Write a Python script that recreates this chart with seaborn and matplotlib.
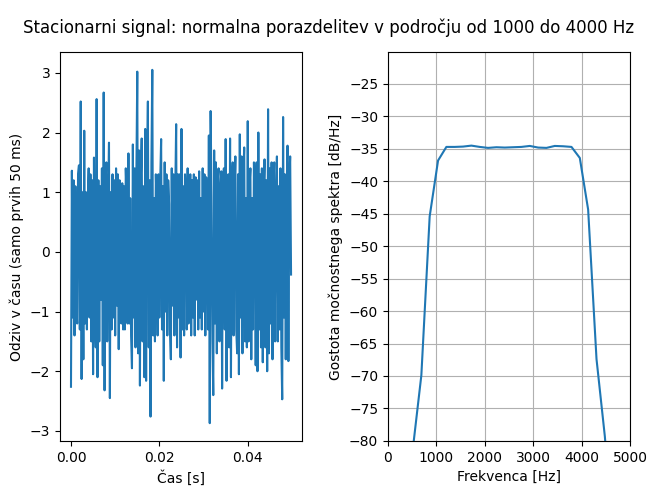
import numpy as np
import seaborn as sns
import matplotlib.pyplot as plt

# first 50 ms of the filtered noise (sample step 0.2 ms)
fs = 5000
signal = [
    -2.26, 1.36, -1.1, 1.2, -1.4, 1.1, -0.9, -1.2, 1.3, 1.45,
    -1.3, 2.52, -2.13, 1.0, -1.8, 2.03, -1.2, 1.0, -1.3, 0.8,
    1.4, -1.1, 1.3, -1.5, 1.2, -2.05, 1.58, -0.9, -1.6, 2.56,
    -2.1, 1.2, -1.5, 1.1, -0.8, 1.4, -1.9, 2.67, -2.32, 1.1,
    1.5, -1.5, 0.9, 1.83, -2.45, 1.0, -1.3, 1.3, -1.1, 1.2,
    -1.4, 1.4, -0.9, 1.3, -1.63, 1.2, 0.8, -1.2, 1.15, -1.3,
    1.1, -1.3, 1.4, 0.9, -1.2, 1.65, -1.2, 0.9, -1.4, -1.95,
    1.8, -1.1, 1.4, -1.6, 1.3, 3.02, -1.7, 1.7, -2.24, 1.2,
    1.9, -1.5, 1.1, -2.1, 2.06, -2.16, 1.3, 2.52, -1.6, 1.2,
    -2.76, 1.5, 3.05, -1.4, 0.9, -1.5, 1.3, 0.7, -1.4, 1.3,
    -1.1, 1.2, 1.89, -1.3, 1.1, -2.16, 1.5, -1.0, 1.3, -1.4,
    1.2, 0.8, -1.3, -1.8, 1.4, -0.9, 1.3, -1.4, 1.0, 2.14,
    -1.6, 1.3, -1.1, 1.3, -1.77, 2.06, -1.3, 1.1, -1.4, 1.3,
    0.9, -1.3, 1.4, -1.2, 0.8, 1.3, -1.4, 1.2, -1.1, 1.3,
    -1.4, 1.25, -0.8, 1.2, -1.3, 1.35, -1.1, 0.9, -1.3, 1.4,
    -1.0, 1.3, -1.4, 1.25, 0.7, -1.3, 1.95, -2.87, 2.36, 0.9,
    -1.5, -2.4, 1.7, -1.2, 1.5, -1.7, 1.2, 1.4, -1.5, 1.0,
    1.35, -2.29, 1.2, 1.4, -1.3, 1.89, -2.16, 0.9, 1.3, -1.6,
    1.9, -2.1, 1.1, 1.5, -1.4, 1.0, 1.6, -1.3, -1.7, 1.3,
    -2.05, 1.97, -1.1, 1.6, -1.7, 1.3, 1.75, -1.5, 0.9, -1.6,
    2.19, -1.5, 1.1, 1.4, -1.8, 0.9, -1.3, 1.5, 1.0, -1.9,
    1.5, -2.0, 2.0, -1.3, 1.3, -1.6, 1.4, -1.85, 1.0, 1.55,
    -1.6, 1.2, -2.0, 2.39, -1.7, 1.4, -1.2, 1.5, -1.8, 1.1,
    1.5, -1.5, 0.8, 1.6, -1.5, 1.1, -1.3, 1.4, -1.6, -2.47,
    2.26, -1.1, 1.3, -1.8, 1.0, 1.78, -1.83, 1.2, 1.6, -0.38,
]
t = np.arange(len(signal)) / fs

# Welch PSD estimate (bins of ~172 Hz)
freq_hz = [0, 172, 345, 517, 689, 861, 1034, 1206, 1378, 1550,
           1723, 1895, 2067, 2240, 2412, 2584, 2756, 2929, 3101, 3273,
           3445, 3618, 3790, 3962, 4134, 4307, 4479, 4651, 4823, 4996, 5168]
psd_db = [-110, -108, -95, -81, -69.9, -45.4, -36.8, -34.7, -34.7, -34.65,
          -34.5, -34.7, -34.85, -34.75, -34.8, -34.75, -34.7, -34.55, -34.8, -34.85,
          -34.55, -34.6, -34.7, -36.4, -44.35, -67.4, -79.3, -95, -105, -108, -110]

fig, (ax1, ax2) = plt.subplots(1, 2, figsize=(6.57, 4.97), dpi=100)
fig.subplots_adjust(left=0.0913, right=0.959, top=0.895, bottom=0.113, wspace=0.355)
fig.suptitle("Stacionarni signal: normalna porazdelitev v področju od 1000 do 4000 Hz", y=0.962)

sns.lineplot(x=t, y=signal, ax=ax1, color="#1f77b4", linewidth=1.5, estimator=None)
ax1.set_xlabel("Čas [s]")
ax1.set_ylabel("Odziv v času (samo prvih 50 ms)")

sns.lineplot(x=freq_hz, y=psd_db, ax=ax2, color="#1f77b4", linewidth=1.5, estimator=None)
ax2.set_xlim(0, 5000)
ax2.set_ylim(-80, -20.1)
ax2.set_yticks(np.arange(-80, -24, 5))
ax2.grid(True)
ax2.set_xlabel("Frekvenca [Hz]")
ax2.set_ylabel("Gostota močnostnega spektra [dB/Hz]")

fig.savefig("out.png", dpi=100)
